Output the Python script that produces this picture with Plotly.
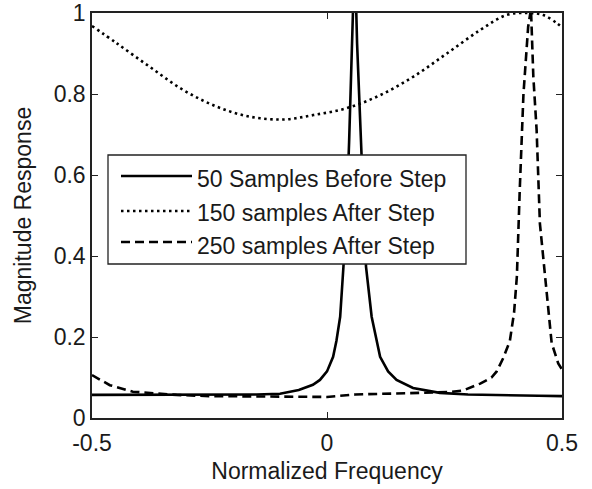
import plotly.graph_objects as go

# ---- data ----
series_names = ["50 Samples Before Step", "150 samples After Step", "250 samples After Step"]

solid_x = [-0.5, -0.3, -0.2, -0.15, -0.1, -0.06, -0.03, -0.015, 0.0, 0.013, 0.02, 0.028, 0.035,
           0.042, 0.047, 0.050, 0.054, 0.059, 0.064, 0.069, 0.072, 0.077, 0.083, 0.095, 0.105,
           0.113, 0.13, 0.148, 0.183, 0.24, 0.3, 0.4, 0.45, 0.5]
solid_y = [0.057, 0.057, 0.057, 0.058, 0.060, 0.069, 0.082, 0.094, 0.115, 0.151, 0.19, 0.25, 0.374,
           0.52, 0.68, 0.785, 0.925, 1.15, 0.925, 0.785, 0.68, 0.52, 0.374, 0.25, 0.19,
           0.151, 0.115, 0.094, 0.074, 0.062, 0.058, 0.057, 0.055, 0.054]

dot_x = [-0.5, -0.447, -0.377, -0.306, -0.235, -0.164, -0.093, -0.029, 0.042, 0.113, 0.184,
         0.255, 0.326, 0.382, 0.425, 0.46, 0.489, 0.5]
dot_y = [0.968, 0.925, 0.867, 0.81, 0.769, 0.744, 0.737, 0.748, 0.765, 0.797, 0.843,
         0.90, 0.958, 0.995, 1.0, 0.995, 0.975, 0.965]

dash_x = [-0.5, -0.462, -0.413, -0.362, -0.32, -0.25, -0.15, -0.05, 0.0, 0.06, 0.15, 0.22, 0.26,
          0.29, 0.326, 0.35, 0.361, 0.375, 0.389, 0.398, 0.404, 0.41, 0.418, 0.428, 0.434,
          0.439, 0.446, 0.453, 0.467, 0.478, 0.492, 0.5]
dash_y = [0.106, 0.081, 0.065, 0.061, 0.057, 0.054, 0.053, 0.052, 0.052, 0.058, 0.060, 0.062, 0.064,
          0.068, 0.085, 0.10, 0.115, 0.148, 0.19, 0.26, 0.35, 0.56, 0.80, 0.966, 1.01,
          0.843, 0.711, 0.48, 0.308, 0.185, 0.135, 0.12]

x_ticks = [-0.5, 0, 0.5]
x_tick_text = ["-0.5", "0", "0.5"]
y_ticks = [0, 0.2, 0.4, 0.6, 0.8, 1]
y_tick_text = ["0", "0.2", "0.4", "0.6", "0.8", "1"]

# ---- styling ----
FONT = "Liberation Sans, Arial, sans-serif"
FS = 23
TXT = "#1a1a1a"
LW = 2.6
styles = [dict(color="black", width=LW, dash="solid"),
          dict(color="black", width=LW, dash="2.5px,3.5px"),
          dict(color="black", width=LW, dash="9px,5px")]

fig = go.Figure()
for name, xs, ys, st, shp in [(series_names[0], solid_x, solid_y, styles[0], "linear"),
                              (series_names[1], dot_x, dot_y, styles[1], "spline"),
                              (series_names[2], dash_x, dash_y, styles[2], "linear")]:
    fig.add_trace(go.Scatter(x=xs, y=ys, mode="lines", name=name, line=dict(shape=shp, **st),
                             showlegend=False))

axis_common = dict(showline=True, linecolor="#222", linewidth=1.5, mirror="ticks",
                   ticks="inside", ticklen=6, tickcolor="#222", tickwidth=1.3,
                   showgrid=False, zeroline=False, automargin=False,
                   tickfont=dict(family=FONT, size=FS, color=TXT))

fig.update_xaxes(range=[-0.5, 0.5], tickvals=x_ticks, ticktext=x_tick_text, ticklabelstandoff=4,
                 title=dict(text="Normalized Frequency", font=dict(family=FONT, size=FS, color=TXT),
                            standoff=8),
                 **axis_common)
fig.update_yaxes(range=[0, 1], tickvals=y_ticks, ticktext=y_tick_text,
                 title=dict(text="Magnitude Response", font=dict(family=FONT, size=FS, color=TXT),
                            standoff=16),
                 **axis_common)

# ---- manual legend (MATLAB style box with long line samples) ----
W, H, L, T = 470.0, 405.0, 92.0, 13.0
def px(x):
    return (x - L) / W
def py(y):
    return (418.0 - y) / H

shapes = [dict(type="rect", xref="paper", yref="paper", x0=px(108), x1=px(466), y0=py(264), y1=py(155),
               line=dict(color="#222", width=1.3), fillcolor="white", layer="above")]
row_y = [176, 211, 242]
text_y = [179, 213, 246]
for i, st in enumerate(styles):
    shapes.append(dict(type="line", xref="paper", yref="paper", x0=px(121), x1=px(192),
                       y0=py(row_y[i]), y1=py(row_y[i]), line=st, layer="above"))
    fig.add_annotation(xref="paper", yref="paper", x=px(195), y=py(text_y[i]),
                       xanchor="left", yanchor="middle", showarrow=False, text=series_names[i],
                       font=dict(family=FONT, size=FS, color=TXT))
fig.update_layout(shapes=shapes)

fig.update_layout(width=592, height=489, margin=dict(l=92, r=30, t=13, b=71),
                  paper_bgcolor="white", plot_bgcolor="white", showlegend=False)

fig.write_html("out.html")
